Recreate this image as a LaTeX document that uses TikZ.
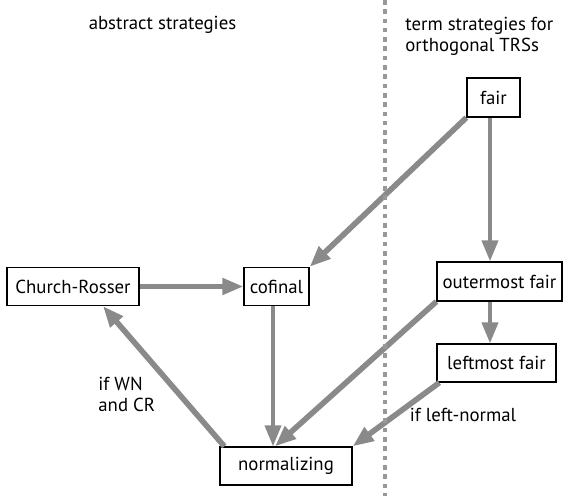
\documentclass[tikz,border=0pt]{standalone}
\usepackage{xcolor}
\usepackage{fontspec}
\setmainfont{PT Sans}
\usepackage{tikz}
\usetikzlibrary{positioning,arrows.meta}

\definecolor{arrowgray}{RGB}{138,138,138}
\definecolor{sepgray}{RGB}{152,152,152}
\tikzset{
  strat/.style={draw=black, line width=0.65pt, minimum height=19pt, inner sep=0pt,
    font=\fontsize{9.4}{10}\selectfont},
  impl/.style={draw=arrowgray, line width=2.8pt, -{Triangle[length=10.5pt,width=8pt]}},
  note/.style={font=\fontsize{9.4}{10.5}\selectfont, align=left, inner sep=0pt},
}

\begin{document}
\begin{tikzpicture}[x=0.5pt,y=-0.5pt]
\useasboundingbox (0,0) rectangle (563,496);
% headings
\node[note] (abs) at (162.5,25) {abstract strategies};
\node[note, anchor=west] (term) at (405,36) {term strategies for\\orthogonal TRSs};
% strategies
\node[strat, minimum width=66pt] (cr) at (73,286.5) {Church-Rosser};
\node[strat, minimum width=32.5pt] (cofinal) at (276.5,286.5) {cofinal};
\node[strat, minimum width=26.5pt, minimum height=19.5pt] (fair) at (493.5,97.5) {fair};
\node[strat, minimum width=62.5pt, minimum height=19.5pt] (outer) at (499.5,281.5) {outermost fair};
\node[strat, minimum width=59.5pt] (left) at (496.5,363) {leftmost fair};
\node[strat, minimum width=66pt] (norm) at (286,466) {normalizing};
% conditions
\node[note, anchor=west] (wncr) at (98,394) {if WN\\and CR};
\node[note] (lnorm) at (463,415) {if left-normal};
% implications
\draw[impl] (fair.south west) -- (cofinal.north east);
\draw[impl, line width=2pt] ([xshift=-1.75pt]fair.south) -- ([xshift=-1.75pt]fair.south |- outer.north);
\draw[impl, line width=2pt] ([xshift=-1.75pt]fair.south |- outer.south) -- ([xshift=-1.75pt]fair.south |- left.north);
\draw[impl, line width=2.5pt] (cr.east) -- (cofinal.west);
\draw[impl, line width=2pt] ([xshift=-1.75pt]cofinal.south) -- ([xshift=-1.75pt]cofinal.south |- norm.north);
\draw[impl] (outer.south west) -- ([xshift=-5.5pt]norm.north);
\draw[impl] ([xshift=1.5pt]left.south west) -- (norm.north east);
\draw[impl] ([xshift=2.5pt]norm.north west) -- ([xshift=15pt]cr.south);
% separator
\coordinate (septop) at (385,0);
\coordinate (sepbot) at (385,496);
\draw[sepgray, line width=2.3pt, dash pattern=on 2.3pt off 2.35pt] (septop) -- (sepbot);
\end{tikzpicture}
\end{document}
